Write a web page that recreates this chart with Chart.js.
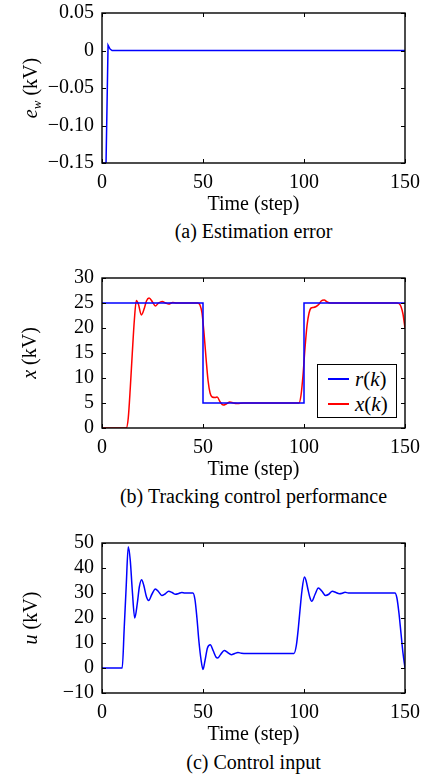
<!DOCTYPE html>
<html><head><meta charset="utf-8">
<script src="https://cdn.jsdelivr.net/npm/chart.js@4.4.0/dist/chart.umd.min.js"></script>
<style>
html,body{margin:0;padding:0;background:#fff;}
body{width:425px;height:779px;position:relative;overflow:hidden;font-family:"Liberation Serif",serif;color:#000;}
canvas{position:absolute;left:0;}
.cap{position:absolute;left:102px;width:303px;text-align:center;font-size:20px;line-height:24px;white-space:nowrap;}
.ytitle{position:absolute;font-size:20px;line-height:20px;white-space:nowrap;transform:translate(-50%,-50%) rotate(-90deg);}
.ytitle sub{font-size:13px;vertical-align:-4px;line-height:0;}
.legend{position:absolute;left:317px;top:364px;width:78px;height:52px;border:1.3px solid #000;background:#fff;}
.legend .ln{position:absolute;left:10px;width:21px;height:1.5px;}
.legend .tx{position:absolute;left:37px;font-size:21px;line-height:20px;white-space:nowrap;}
</style></head><body>
<canvas id="c1" width="425" height="217" style="top:0px"></canvas>
<canvas id="c2" width="425" height="217" style="top:265px"></canvas>
<canvas id="c3" width="425" height="217" style="top:530px"></canvas>

<div class="ytitle" style="left:30px;top:88px"><i>e</i><sub><i>w</i></sub> (kV)</div>
<div class="ytitle" style="left:29px;top:353px"><i>x</i> (kV)</div>
<div class="ytitle" style="left:30px;top:618px"><i>u</i> (kV)</div>

<div class="cap" style="top:219px">(a) Estimation error</div>
<div class="cap" style="top:484px">(b) Tracking control performance</div>
<div class="cap" style="top:750px">(c) Control input</div>

<div class="legend">
  <div class="ln" style="top:13px;background:#0000ff"></div>
  <div class="tx" style="top:4px"><i>r</i>(<i>k</i>)</div>
  <div class="ln" style="top:38px;background:#ff0000"></div>
  <div class="tx" style="top:29px"><i>x</i>(<i>k</i>)</div>
</div>

<script>
// ---- data ----
const errK   = [0, 2, 3, 4, 5, 150];
const errVal = [-0.15, -0.15, 0.007, 0.002, 0, 0];

const refK   = [0, 50, 50, 100, 100, 150];
const refVal = [25, 25, 5, 5, 25, 25];

const stateK   = [0,12,13,14,15,16,17,18,19.5,21,22,23.3,25,26.4,28,29.8,31.5,33,35,37,47.5,48.5,49.5,50.5,51.5,52.5,53.5,54.5,56,57,58.5,60,61.5,63.3,65,67,70,97.5,98.5,99.5,100.5,101.5,102.5,103.5,104.6,106,107.5,108.5,110,111.5,113,146,147,148,149,150];
const stateVal = [0,0,2,8,15,21.5,25.5,24.8,22.6,24,25.4,26,25.2,24.4,25,25.3,25,24.8,25.1,25,25,24.6,23,19,14,9.5,7,6.2,6.1,6.2,5.2,4.6,4.8,5.2,5,4.9,5,5,6.5,10.5,16,20.5,23,24,24.1,24.3,24.8,25.4,25.6,25.2,25,25,24.9,24.3,22.8,20];

const inputK   = [0,10,11,12,13,14,15,16.2,17.5,18.5,19.6,20.7,22,23.1,24.7,26.4,28,29.6,31.2,33,34.7,36.4,38,39.5,41,45,46,47,48,49,50,51,52.2,53.6,55,56.5,57.2,58.8,60.5,62.2,64,65.7,67.3,69,72,95,96.2,97.2,98,99,100.2,101,102,103,103.8,105.5,107.1,108.8,110.7,112.3,114,115.8,117.5,119,120.3,122,145,146,147,148,149,150];
const inputVal = [0,0,16,33,48.5,43,31,20,26,32.5,35.3,33,28.5,27,29.5,31.6,30.5,29,29.6,30.7,30.2,29.5,29.8,30.2,30,30,27.5,20,10.5,3.5,-0.6,3,8,9.3,7,4.3,4,5.5,7,6.2,5.3,5.8,6.2,5.9,5.8,5.8,9,16,23,31,36.4,35,31.3,28,26.7,29.5,32,30.8,29,29.5,30.7,30.2,29.7,29.9,30.3,30,30,28,22,14,6,0];

const timeTicks  = ['0','50','100','150'];
const errTicks   = ['\u22120.15','\u22120.10','\u22120.05','0','0.05'];
const stateTicks = ['0','5','10','15','20','25','30'];
const inputTicks = ['\u221210','0','10','20','30','40','50'];

// ---- helpers ----
const pts = (ks, vs) => ks.map((k, i) => ({x: k, y: vs[i]}));
const FONT = {family: 'Liberation Serif', size: 20};

const frameTicks = {
  id: 'frameTicks',
  afterDatasetsDraw(chart) {
    const {ctx, chartArea: {left, right, top, bottom}, scales: {x, y}} = chart;
    ctx.save();
    ctx.strokeStyle = '#000';
    ctx.lineWidth = 1;
    const L = 4;
    ctx.beginPath();
    x.ticks.forEach(t => {
      const px = Math.round(x.getPixelForValue(t.value)) + 0.5;
      ctx.moveTo(px, bottom); ctx.lineTo(px, bottom - L);
      ctx.moveTo(px, top); ctx.lineTo(px, top + L);
    });
    y.ticks.forEach(t => {
      const py = Math.round(y.getPixelForValue(t.value)) + 0.5;
      ctx.moveTo(left, py); ctx.lineTo(left + L, py);
      ctx.moveTo(right, py); ctx.lineTo(right - L, py);
    });
    ctx.stroke();
    ctx.lineWidth = 1.4;
    ctx.strokeRect(left, top, right - left, bottom - top);
    ctx.restore();
  }
};

function makeChart(id, datasets, yMin, yMax, yStep, yLabels) {
  return new Chart(document.getElementById(id), {
    type: 'line',
    data: {datasets},
    plugins: [frameTicks],
    options: {
      responsive: false, animation: false, devicePixelRatio: 1,
      layout: {padding: {top: 13, right: 20, left: 0, bottom: 0}},
      plugins: {legend: {display: false}, tooltip: {enabled: false}},
      elements: {point: {radius: 0}},
      scales: {
        x: {
          type: 'linear', min: 0, max: 150,
          grid: {display: false, drawTicks: false}, border: {display: false},
          ticks: {stepSize: 50, autoSkip: false, color: '#000', font: FONT, padding: 8, maxRotation: 0,
                  callback: (v, i) => timeTicks[i]},
          title: {display: true, text: 'Time (step)', color: '#000', font: FONT, padding: {top: 0, bottom: 0}},
          afterFit: s => { s.height = 54; s.paddingLeft = 0; s.paddingRight = 0; s.paddingTop = 0; s.paddingBottom = 0; }
        },
        y: {
          type: 'linear', min: yMin, max: yMax,
          grid: {display: false, drawTicks: false}, border: {display: false},
          ticks: {stepSize: yStep, autoSkip: false, color: '#000', font: FONT, padding: 8,
                  callback: (v, i) => yLabels[i]},
          afterFit: s => { s.width = 102; s.paddingTop = 0; s.paddingBottom = 0; s.paddingLeft = 0; s.paddingRight = 0; }
        }
      }
    }
  });
}

function drawAll() {
  makeChart('c1', [
    {data: pts(errK, errVal), borderColor: '#0000ff', borderWidth: 1.5, tension: 0}
  ], -0.15, 0.05, 0.05, errTicks);

  makeChart('c2', [
    {data: pts(refK, refVal), borderColor: '#0000ff', borderWidth: 1.5, tension: 0},
    {data: pts(stateK, stateVal), borderColor: '#ff0000', borderWidth: 1.5, cubicInterpolationMode: 'monotone'}
  ], 0, 30, 5, stateTicks);

  makeChart('c3', [
    {data: pts(inputK, inputVal), borderColor: '#0000ff', borderWidth: 1.5, cubicInterpolationMode: 'monotone'}
  ], -10, 50, 10, inputTicks);
}

Promise.all([
  document.fonts.load('20px "Liberation Serif"'),
  document.fonts.load('italic 20px "Liberation Serif"')
]).then(drawAll, drawAll);
</script>
</body></html>
